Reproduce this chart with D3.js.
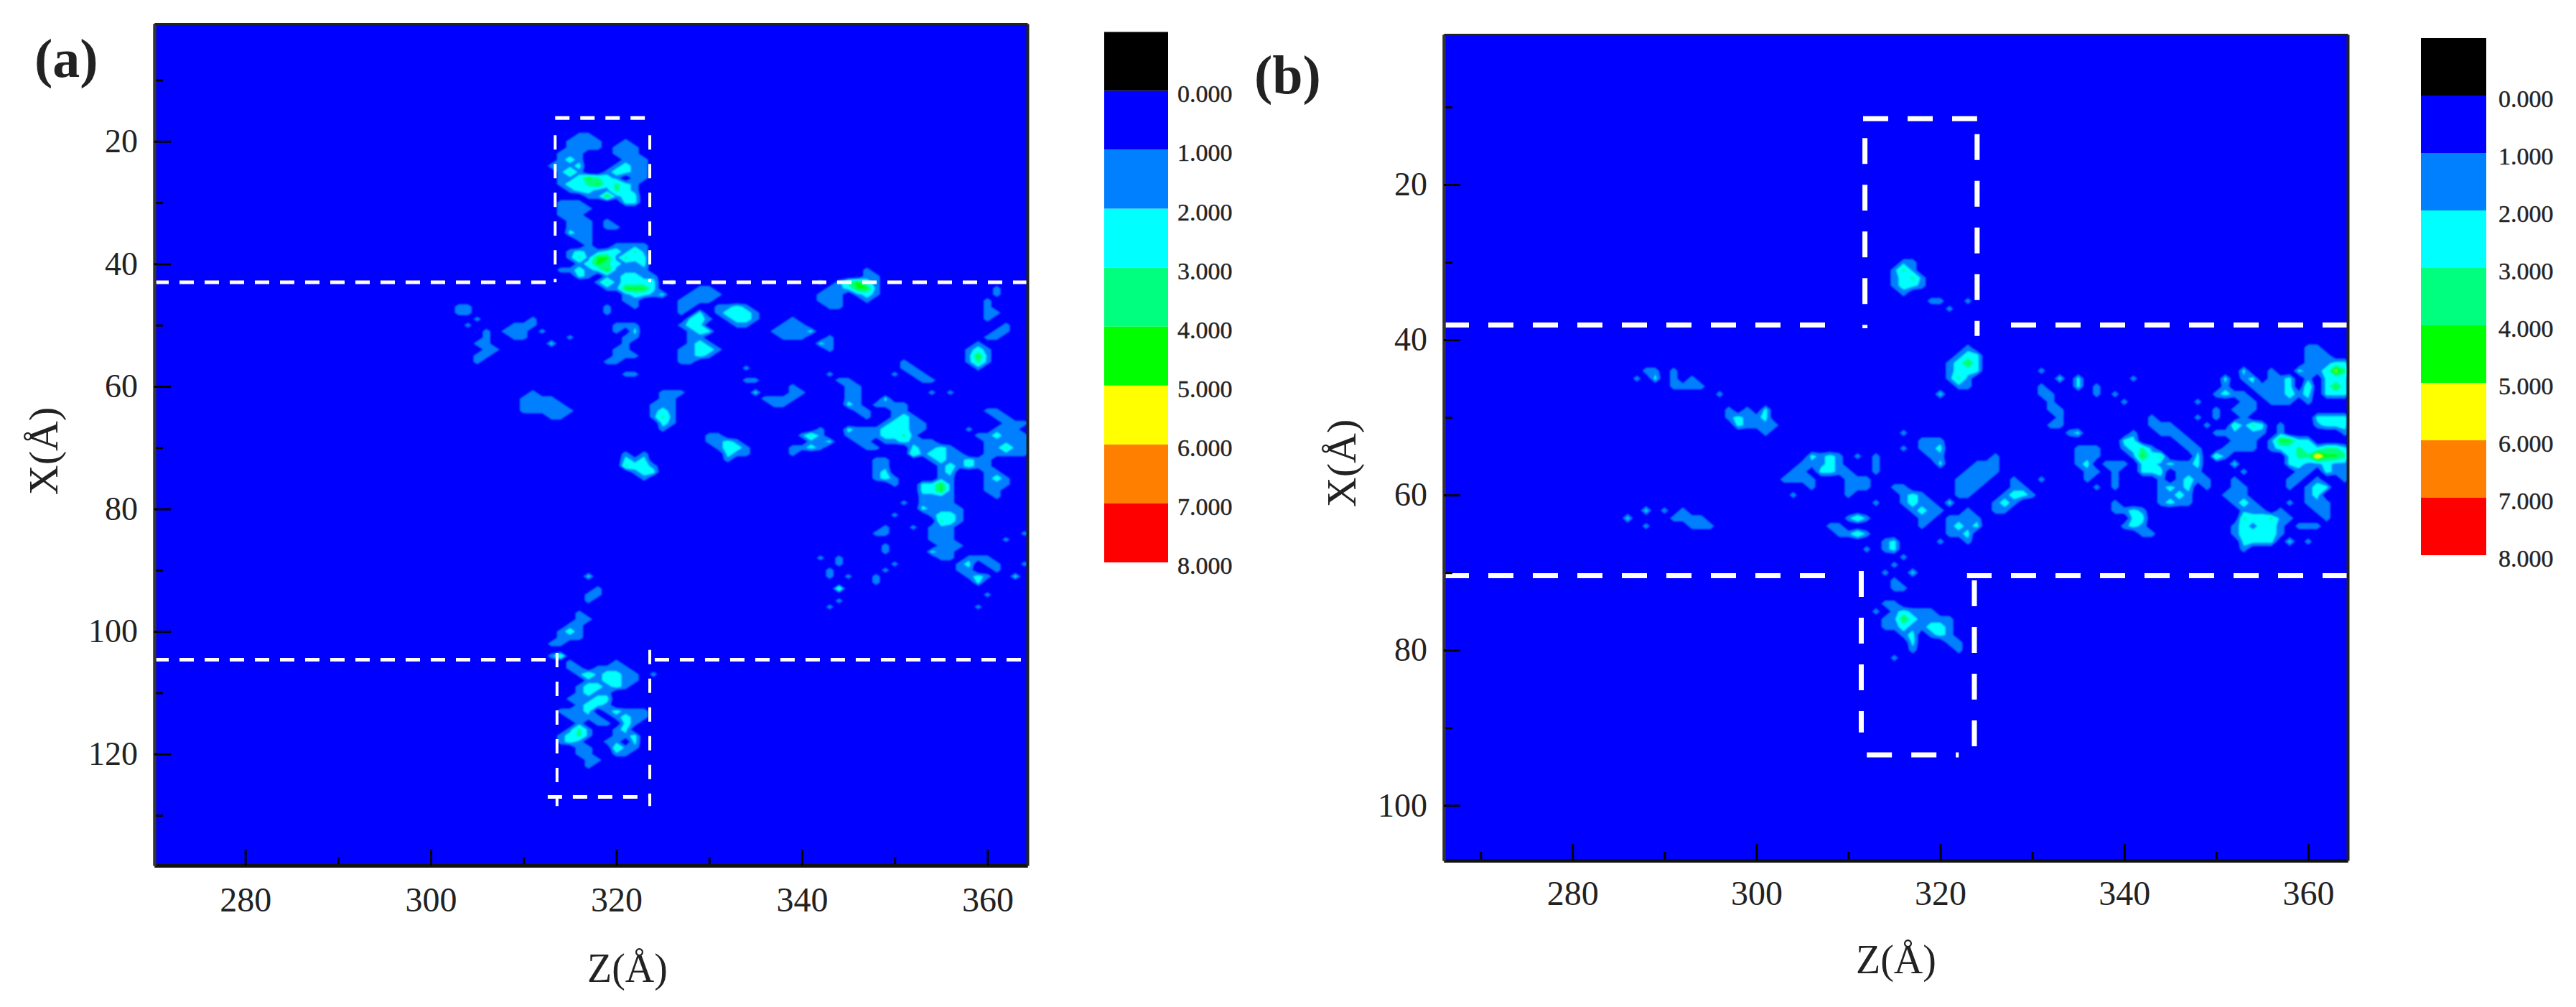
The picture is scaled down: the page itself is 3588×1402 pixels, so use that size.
<!DOCTYPE html>
<html>
<head>
<meta charset="utf-8">
<script src="https://cdn.jsdelivr.net/npm/d3@7"></script>
<style>
  html, body { margin: 0; padding: 0; background: #fff; }
  svg { display: block; }
  text { font-family: "Liberation Serif", serif; fill: #222; }
</style>
</head>
<body>
<svg id="chart" width="3588" height="1402"></svg>
<script>
// Contour level colours, 0-1 up to 7-8, plus the black box above 0
const levelColors = ['#000000', '#0000ff', '#007fff', '#00ffff', '#00ff7f', '#00ff00', '#ffff00', '#ff7f00', '#ff0000'];
const levelBreaks = [1, 2, 3, 4, 5, 6, 7];
const legendValues = [0, 1, 2, 3, 4, 5, 6, 7, 8];

// What a digit in the density rows stands for
const digitValues = [0, 1.7, 2.35, 3.3, 4.3, 5.3, 6.3, 7.3];

const majorTicksZ = [280, 300, 320, 340, 360];
const minorTicksZ = [270, 290, 310, 330, 350];
const majorTicksXa = [20, 40, 60, 80, 100, 120];
const minorTicksXa = [10, 30, 50, 70, 90, 110, 130];
const majorTicksXb = [20, 40, 60, 80, 100];
const minorTicksXb = [10, 30, 50, 70, 90];

// Density: [first Z, first X, rows of one digit per cell (1 A)]
const densityA = [
  [313, 19, ["000110000000", "001111001000", "001111011100", "011100011100", "012100001110", "111200012110",
    "013100122110", "011243210110", "012234232100", "001221132100", "000011412200", "011100002200",
    "011110000000", "011100000000", "001110100000", "001110110000", "002110000000", "000110000000",
    "000010011110", "001211221310", "001314413220", "000124321120", "011212411110", "000210112211",
    "000001312222", "000000114442", "000000001221", "000000001100", "000000000100"]],
  [325, 45, ["2"]], [326, 43, ["1"]], [319, 47, ["1", "1"]],
  [327, 44, ["001100000", "011110000", "111100000", "110011210", "102012221", "022101221", "122000110",
    "012200000", "011000000", "012100000", "112210000", "112100000", "110000000"]],
  [337, 49, ["00100", "01110", "11112", "01110"]],
  [342, 52, ["01", "21", "01"]],
  [342, 41, ["00000100", "00000110", "10134210", "01124410", "11101210", "11100100", "01100000"]],
  [303, 47, ["110", "110", "001", "010"]],
  [308, 49, ["0001", "0111", "1110", "0110"]],
  [312, 51, ["1"]], [315, 52, ["1"]], [313, 53, ["2"]],
  [304, 51, ["0010", "0010", "0110", "0011", "0110", "0100"]],
  [319, 50, ["0111", "0102", "0011", "0010", "0110", "0111", "1100", "0000", "0011"]],
  [334, 57, ["1"]], [334, 59, ["11"]],
  [335, 60, ["000010", "200011", "011110", "001100"]],
  [310, 61, ["010000", "111100", "111110", "111111", "000110"]],
  [324, 61, ["0111", "0110", "1110", "1210", "1310", "0210", "0100"]],
  [330, 68, ["11000", "11210", "01221", "00211", "00100"]],
  [321, 71, ["1010", "2120", "3221", "0122", "0010"]],
  [358, 53, ["010", "121", "141", "131", "010"]],
  [360, 45, ["01", "10", "10", "11", "10"]],
  [360, 50, ["001", "011", "110"]],
  [351, 56, ["100", "110", "011", "001"]],
  [350, 58, ["1"]], [354, 59, ["1", "0", "1"]], [356, 61, ["1"]], [361, 44, ["1"]],
  [343, 58, ["10000", "01100", "00110", "00110", "00110", "00210", "00011", "00001"]],
  [339, 67, ["00010", "01310", "00112", "11210", "10000"]],
  [345, 62, ["00002000000000000000", "00011110000000000000", "00000110000000011000", "00000121000000001100",
    "00001221100000000111", "21112221100001001110", "11112231000000112111", "01101121110000011111",
    "00110002112100011311", "00000003122110011111", "00011000012112110000", "00011000001212110000",
    "00012000001200011000", "00012100001100012100", "00000100224100011100", "00000000224100011000",
    "00000000111100001000", "00000010111100000000", "00000000211110000000", "00000100012210000000",
    "00000000003210000000"]],
  [354, 83, ["111", "111", "111", "0111", "2110", "0110"]],
  [348, 83, ["01", "11", "00", "01", "01"]],
  [352, 83, ["1"]], [350, 89, ["1"]], [349, 90, ["1"]], [348, 91, ["1", "1"]],
  [342, 88, ["1"]], [344, 88, ["1", "1"]], [343, 90, ["1", "1"]], [345, 91, ["1"]],
  [344, 93, ["3"]], [344, 95, ["1"]], [343, 96, ["1"]],
  [357, 88, ["01110", "12011", "11001", "01210", "00200"]],
  [360, 94, ["1"]], [359, 96, ["1"]], [363, 91, ["2"]], [362, 85, ["1"]], [364, 89, ["1"]], [364, 84, ["1"]],
  [317, 91, ["2"]], [318, 93, ["1"]], [317, 94, ["11"]], [317, 95, ["1"]],
  [313, 97, ["00010", "00011", "00110", "01210", "01110", "11000"]],
  [313, 104, ["13"]],
  [314, 105, ["01000010000", "01101111000", "00131221101", "00011221100", "00122121000", "00121100000",
    "01112200000", "00122100000", "11120121110", "01111012110", "00101102100", "01310012000",
    "12310011200", "12100110200", "00110031100", "00110011000", "00011000000", "00010000000"]]
];

// Density, left and middle part
const densityB = [
  [287, 44, ["0110", "1020"]],
  [291, 44, ["1000", "1010", "1111"]],
  [296, 47, ["1"]],
  [297, 49, ["101020", "121120", "021111", "000010"]],
  [286, 63, ["2"]], [288, 62, ["2"]], [290, 62, ["1"]], [288, 64, ["1"]],
  [291, 62, ["01000", "11110", "00111"]],
  [303, 55, ["00021210101", "00111210001", "01102211001", "11110001110", "00010001110", "01000001000"]],
  [313, 61, ["1"]], [316, 52, ["1"]], [316, 54, ["1"]],
  [308, 63, ["00131", "11000", "01131"]],
  [312, 67, ["1"]], [314, 66, ["12", "12"]], [316, 68, ["1"]],
  [314, 69, ["01", "10", "01", "011"]], [317, 70, ["2"]],
  [313, 74, ["0110000000", "1012111000", "0114211110", "0112112210", "0001201210", "0000200011", "0000100001", "0010000000"]],
  [315, 30, ["0110", "1310", "1231", "1221", "0100"]],
  [319, 35, ["11"]], [323, 35, ["1"]], [321, 36, ["1"]],
  [321, 41, ["0010", "0122", "1242", "1222", "1310", "0110"]],
  [320, 47, ["2"]],
  [318, 53, ["111", "112", "011", "002"]],
  [322, 55, ["00001", "00111", "01111", "11110", "11100", "11000"]],
  [331, 58, ["1"]],
  [315, 59, ["110000", "012100", "012110", "001211", "000110"]],
  [326, 58, ["00100", "00110", "01221", "12100", "11000"]],
  [321, 61, ["2"]],
  [321, 62, ["0010", "1111", "1212", "1120", "0010"]],
  [318, 64, ["1"]], [320, 66, ["1"]]
];

// Density, right part: [X, first Z, digits]
const densityRowsB = [
  [41, 360, "11"], [42, 360, "111"], [43, 360, "11"], [43, 362, "122"],
  [44, 331, "1"], [44, 353, "2"], [44, 356, "1"], [44, 359, "211253"],
  [45, 333, "2"], [45, 335, "2"], [45, 341, "1"], [45, 351, "2"], [45, 353, "12"], [45, 356, "11"], [45, 358, "2"], [45, 360, "1"], [45, 362, "222"],
  [46, 331, "1"], [46, 335, "2"], [46, 337, "1"], [46, 351, "1"], [46, 354, "1"], [46, 355, "111"], [46, 358, "2"], [46, 360, "3"], [46, 362, "242"],
  [47, 331, "11"], [47, 337, "1"], [47, 339, "1"], [47, 350, "121"], [47, 353, "1"], [47, 355, "1112"], [47, 359, "1"], [47, 360, "2"], [47, 362, "222"],
  [48, 332, "1"], [48, 340, "1"], [48, 348, "1"], [48, 353, "11"], [48, 356, "111"], [48, 360, "1"],
  [49, 332, "11"], [49, 350, "1"], [49, 352, "111"],
  [50, 333, "1"], [50, 343, "1"], [50, 348, "1"], [50, 350, "1"], [50, 353, "1"], [50, 361, "2222"],
  [51, 332, "11"], [51, 343, "11"], [51, 345, "1"], [51, 349, "1"], [51, 352, "3132"], [51, 357, "1"], [51, 361, "1222"],
  [52, 334, "12"], [52, 341, "1"], [52, 344, "111"], [52, 350, "11"], [52, 352, "1111"], [52, 357, "1"], [52, 364, "1"],
  [53, 340, "22"], [53, 346, "11"], [53, 352, "111"], [53, 356, "14422"],
  [54, 335, "111"], [54, 340, "12"], [54, 342, "31"], [54, 347, "11"], [54, 351, "1111"], [54, 356, "122322332"],
  [55, 335, "111"], [55, 341, "1423"], [55, 348, "2"], [55, 350, "31"], [55, 358, "2336443"],
  [56, 335, "12"], [56, 338, "111"], [56, 342, "2212"], [56, 346, "112"], [56, 352, "2"], [56, 358, "2211211"],
  [57, 336, "11"], [57, 339, "1"], [57, 342, "222"], [57, 346, "111"], [57, 353, "1"], [57, 359, "11"], [57, 362, "211"],
  [58, 336, "1"], [58, 339, "1"], [58, 344, "1"], [58, 346, "1211"], [58, 352, "1"], [58, 358, "11"], [58, 361, "1"], [58, 364, "1"],
  [59, 337, "1"], [59, 339, "1"], [59, 344, "12"], [59, 346, "12"], [59, 349, "1"], [59, 352, "11"], [59, 358, "1"], [59, 360, "122"],
  [60, 344, "1121"], [60, 351, "111"], [60, 360, "12"],
  [61, 339, "1"], [61, 344, "1211"], [61, 352, "121"], [61, 358, "1"], [61, 360, "111"],
  [62, 339, "1121"], [62, 353, "111"], [62, 357, "1"], [62, 361, "11"],
  [63, 341, "22"], [63, 353, "322311"], [63, 362, "1"],
  [64, 340, "121"], [64, 352, "121221"], [64, 359, "111"],
  [65, 342, "11"], [65, 352, "122221"],
  [66, 353, "2222"], [66, 358, "2"], [66, 360, "1"],
  [67, 353, "1"]
];

// Dashed outline of the channel, in data units: [Z1, X1, Z2, X2]
// Right-hand runs start at the frame so a dash touches it
const dashesHorizontalA = [[270.2, 43, 313.4, 43], [364.3, 43, 325, 43], [270.2, 104.6, 313.6, 104.6], [363.6, 104.6, 323.6, 104.6], [313.4, 16.2, 324, 16.2], [312.6, 127, 323.6, 127]];
const dashesVerticalA = [[313.4, 19, 313.4, 43], [323.6, 19, 323.6, 43], [313.6, 103.5, 313.6, 128.5], [323.6, 103, 323.6, 128.5]];
const dashesHorizontalB = [[266, 38.1, 309, 38.1], [364.3, 38.1, 327, 38.1], [266, 70.4, 308.5, 70.4], [364.3, 70.4, 322.9, 70.4], [311.6, 11.5, 324, 11.5], [312, 93.5, 322, 93.5]];
const dashesVerticalB = [[311.8, 14, 311.8, 38.5], [324, 13.5, 324, 39.5], [311.4, 69.8, 311.4, 90.6], [323.7, 71, 323.7, 93]];

const panels = [
  {
    label: '(a)', labelX: 48, labelY: 107, density: densityA, rows: [],
    left: 215, top: 33, right: 1431, bottom: 1205,
    zDomain: [270.2, 364.3], xDomain: [0.8, 138.2],
    majorX: majorTicksXa, minorX: minorTicksXa,
    titleZ: [874, 1367], titleX: [80, 628], zPad: 30,
    dashH: dashesHorizontalA, dashV: dashesVerticalA,
    dashHStyle: { width: 5, dash: '20 15' }, dashVStyle: { width: 4, dash: '20 20' },
    barLeft: 1538, barRight: 1627, barTop: 44.5, barBottom: 783, barLabelX: 1640, barLabelDy: 5
  },
  {
    label: '(b)', labelX: 1747, labelY: 130, density: densityB, rows: densityRowsB,
    left: 2011, top: 48, right: 3270, bottom: 1198,
    zDomain: [266, 364.3], xDomain: [0.65, 107.1],
    majorX: majorTicksXb, minorX: minorTicksXb,
    titleZ: [2641, 1355], titleX: [1888, 645], zPad: 28,
    dashH: dashesHorizontalB, dashV: dashesVerticalB,
    dashHStyle: { width: 7, dash: '35 27' }, dashVStyle: { width: 7, dash: '36 29' },
    barLeft: 3372, barRight: 3463, barTop: 53, barBottom: 773, barLabelX: 3480, barLabelDy: 5
  }
];

const svg = d3.select('#chart');

svg.append('defs').append('filter')
  .attr('id', 'soften')
  .attr('filterUnits', 'userSpaceOnUse')
  .attr('x', 0).attr('y', 0).attr('width', 3588).attr('height', 1402)
  .append('feGaussianBlur')
  .attr('stdDeviation', 1.3);

/**
 * Put the digit rows on a regular 1 A grid, keeping the highest value per cell
 */
function buildGrid(panel) {
  const zStart = Math.floor(panel.zDomain[0]) - 1;
  const xStart = Math.floor(panel.xDomain[0]) - 1;
  const nz = Math.ceil(panel.zDomain[1]) + 3 - zStart;
  const nx = Math.ceil(panel.xDomain[1]) + 2 - xStart;
  const values = new Array(nz * nx).fill(0);

  const put = (z0, x, digits) => {
    for (let i = 0; i < digits.length; i++) {
      const idx = (x - xStart) * nz + (z0 + i - zStart);
      values[idx] = Math.max(values[idx], digitValues[+digits[i]]);
    }
  };
  panel.density.forEach(([z0, x0, rows]) => rows.forEach((row, j) => put(z0, x0 + j, row)));
  panel.rows.forEach(([x, z0, digits]) => put(z0, x, digits));

  return { values, nz, nx, zStart, xStart };
}

function drawPanel(panel, index) {
  const zScale = d3.scaleLinear().domain(panel.zDomain).range([panel.left, panel.right]);
  const xScale = d3.scaleLinear().domain(panel.xDomain).range([panel.top, panel.bottom]);
  const g = svg.append('g');

  g.append('clipPath').attr('id', `plot-${index}`)
    .append('rect')
    .attr('x', panel.left).attr('y', panel.top)
    .attr('width', panel.right - panel.left).attr('height', panel.bottom - panel.top);

  g.append('rect')
    .attr('x', panel.left).attr('y', panel.top)
    .attr('width', panel.right - panel.left).attr('height', panel.bottom - panel.top)
    .attr('fill', levelColors[1]);

  // Filled contour bands
  const grid = buildGrid(panel);
  const contours = d3.contours()
    .size([grid.nz, grid.nx])
    .thresholds(levelBreaks)(grid.values);
  const path = d3.geoPath(d3.geoTransform({
    point(x, y) {
      this.stream.point(zScale(grid.zStart + x - 0.5), xScale(grid.xStart + y - 0.5));
    }
  }));

  g.append('g')
    .attr('clip-path', `url(#plot-${index})`)
    .append('g')
    .attr('filter', 'url(#soften)')
    .selectAll('path')
    .data(contours)
    .enter()
    .append('path')
    .attr('d', path)
    .attr('fill', (d, i) => levelColors[i + 2]);

  // Dashed channel outline
  const drawDashes = (segments, style) => {
    g.append('g').selectAll('line')
      .data(segments)
      .enter()
      .append('line')
      .attr('x1', d => zScale(d[0]))
      .attr('y1', d => xScale(d[1]))
      .attr('x2', d => zScale(d[2]))
      .attr('y2', d => xScale(d[3]))
      .attr('stroke', '#fff')
      .attr('stroke-width', style.width)
      .attr('stroke-dasharray', style.dash);
  };
  drawDashes(panel.dashH, panel.dashHStyle);
  drawDashes(panel.dashV, panel.dashVStyle);

  // Axes, ticks point inwards
  const styleAxis = (sel, domainWidth, domainColor) => {
    sel.selectAll('.tick line').attr('stroke', '#000').attr('stroke-width', 3);
    sel.select('.domain').attr('stroke', domainColor).attr('stroke-width', domainWidth);
    sel.selectAll('text').attr('fill', '#222');
  };

  const bottomY = `translate(0,${panel.bottom})`;
  g.append('g').attr('transform', bottomY)
    .call(d3.axisBottom(zScale).tickValues(panel === panels[0] ? minorTicksZ.slice(1) : minorTicksZ).tickSize(-12).tickSizeOuter(0).tickFormat(''))
    .call(styleAxis, 5, '#111');
  g.append('g').attr('transform', bottomY)
    .call(d3.axisBottom(zScale).tickValues(majorTicksZ).tickSize(-23).tickSizeOuter(0).tickPadding(panel.zPad))
    .call(styleAxis, 5, '#111')
    .selectAll('text').attr('font-size', 48).attr('font-family', '"Liberation Serif", serif');

  const leftX = `translate(${panel.left},0)`;
  g.append('g').attr('transform', leftX)
    .call(d3.axisLeft(xScale).tickValues(panel.minorX).tickSize(-12).tickSizeOuter(0).tickFormat(''))
    .call(styleAxis, 4, '#333');
  g.append('g').attr('transform', leftX)
    .call(d3.axisLeft(xScale).tickValues(panel.majorX).tickSize(-23).tickSizeOuter(0).tickPadding(23))
    .call(styleAxis, 4, '#333')
    .selectAll('text').attr('font-size', 46).attr('font-family', '"Liberation Serif", serif');

  g.append('g').attr('transform', `translate(0,${panel.top})`)
    .call(d3.axisTop(zScale).tickValues([]).tickSizeOuter(0))
    .call(styleAxis, 3, '#222');
  g.append('g').attr('transform', `translate(${panel.right},0)`)
    .call(d3.axisRight(xScale).tickValues([]).tickSizeOuter(0))
    .call(styleAxis, 4, '#222');

  // Titles
  g.append('text')
    .attr('x', panel.titleZ[0]).attr('y', panel.titleZ[1])
    .attr('text-anchor', 'middle').attr('font-size', 56)
    .text('Z(Å)');
  g.append('text')
    .attr('transform', `translate(${panel.titleX[0]},${panel.titleX[1]}) rotate(-90)`)
    .attr('text-anchor', 'middle').attr('font-size', 58)
    .text('X(Å)');
  g.append('text')
    .attr('x', panel.labelX).attr('y', panel.labelY)
    .attr('font-size', 76).attr('font-weight', 'bold').attr('fill', '#111')
    .text(panel.label);

  // Colour key
  const barScale = d3.scaleLinear().domain([-1, 8]).range([panel.barTop, panel.barBottom]);
  g.append('g').selectAll('rect')
    .data(levelColors)
    .enter()
    .append('rect')
    .attr('x', panel.barLeft)
    .attr('y', (d, i) => barScale(i - 1))
    .attr('width', panel.barRight - panel.barLeft)
    .attr('height', (d, i) => barScale(i) - barScale(i - 1))
    .attr('fill', d => d);
  g.append('g').selectAll('text')
    .data(legendValues)
    .enter()
    .append('text')
    .attr('x', panel.barLabelX)
    .attr('y', d => barScale(d) + panel.barLabelDy)
    .attr('dy', '0.32em')
    .attr('font-size', 34)
    .attr('fill', '#333')
    .attr('stroke', '#333')
    .attr('stroke-width', 0.5)
    .text(d => d3.format('.3f')(d));
}

panels.forEach(drawPanel);
</script>
</body>
</html>
